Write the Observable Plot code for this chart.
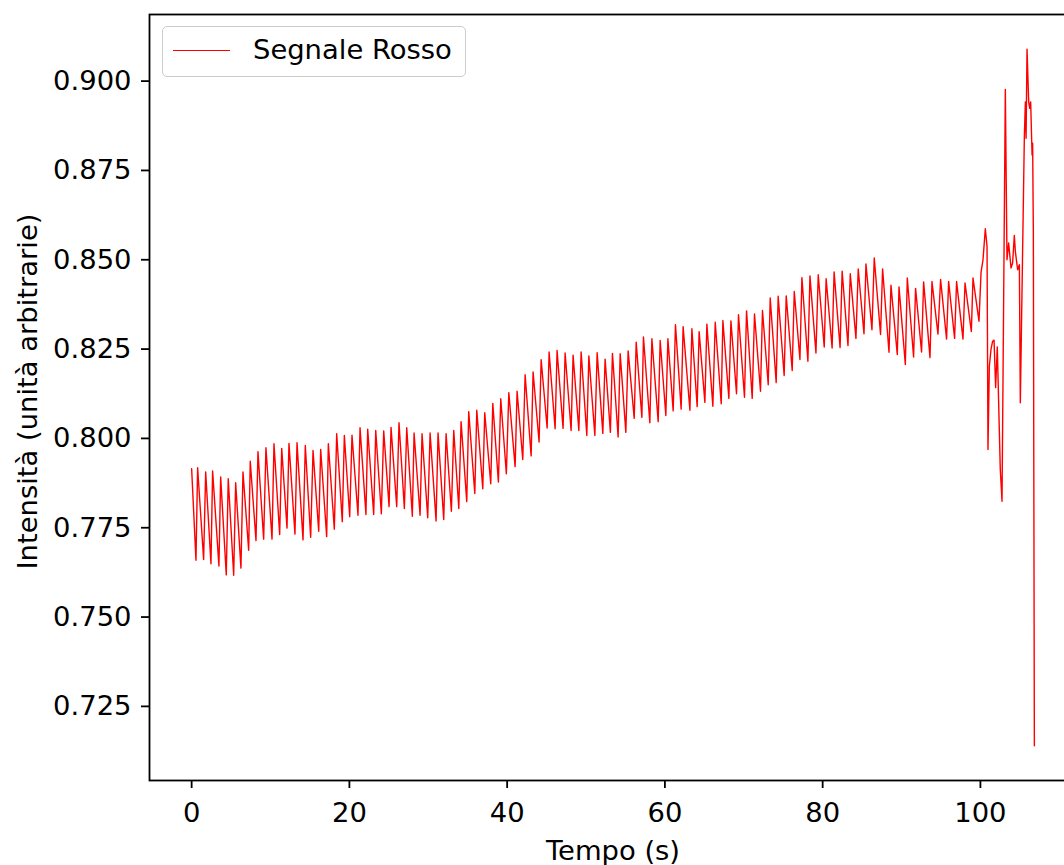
<!DOCTYPE html>
<html>
<head>
<meta charset="utf-8">
<script src="https://cdn.jsdelivr.net/npm/d3@7"></script>
<script src="https://cdn.jsdelivr.net/npm/@observablehq/plot@0.6"></script>
<style>
  html, body { margin: 0; padding: 0; background: white; overflow: hidden; }
  #wrap { position: relative; width: 1100px; height: 865px; }
  #legend {
    position: absolute; left: 162px; top: 26px; width: 302px; height: 49px;
    border: 1.8px solid #cccccc; border-radius: 5px; background: white;
    font-family: "DejaVu Sans", sans-serif; font-size: 27.4px; color: black;
  }
  #legend .swatch { position: absolute; left: 10px; top: 23px; width: 57px; height: 0; border-top: 1.4px solid red; }
  #legend .lab { position: absolute; left: 90px; top: 6px; line-height: 34px; white-space: nowrap; }
</style>
</head>
<body>
<div id="wrap"></div>
<script>
// Tempo (s)
const tempo = [0.00,0.55,0.76,1.52,1.78,2.45,2.66,3.46,3.68,4.39,
4.64,5.33,5.58,6.25,6.51,7.23,7.43,8.16,8.41,9.13,
9.42,10.19,10.44,11.16,11.42,12.09,12.34,13.10,13.36,14.12,
14.41,15.09,15.39,16.11,16.36,17.12,17.33,18.09,18.39,19.10,
19.36,20.04,20.33,21.09,21.35,22.10,22.32,23.08,23.34,24.05,
24.35,25.03,25.28,26.00,26.29,26.97,27.27,27.98,28.20,28.96,
29.21,29.93,30.23,30.99,31.24,31.96,32.26,32.93,33.23,33.87,
34.16,34.88,35.13,35.90,36.15,36.91,37.16,37.92,38.18,38.89,
39.19,39.90,40.21,41.01,41.26,41.98,42.28,43.04,43.29,44.05,
44.31,45.07,45.32,46.08,46.33,47.09,47.35,48.11,48.36,49.09,
49.38,50.10,50.36,51.12,51.41,52.13,52.42,53.09,53.35,54.07,
54.33,55.05,55.34,56.11,56.36,57.08,57.28,58.09,58.35,59.15,
59.40,60.12,60.38,61.05,61.34,62.06,62.31,63.17,63.42,64.09,
64.34,65.07,65.32,66.08,66.38,67.14,67.35,68.11,68.37,69.08,
69.33,70.09,70.35,71.07,71.36,72.12,72.37,73.10,73.35,74.11,
74.36,75.12,75.38,76.14,76.40,77.12,77.37,78.13,78.39,79.15,
79.44,80.20,80.44,81.20,81.45,82.21,82.47,83.21,83.50,84.22,
84.51,85.24,85.49,86.25,86.54,87.34,87.60,88.41,88.66,89.46,
89.68,90.48,90.73,91.53,91.78,92.54,92.80,93.61,93.86,94.62,
94.95,95.71,95.97,96.73,96.98,97.79,98.05,98.85,99.06,99.82,
100.08,100.33,100.62,100.84,100.96,101.13,101.34,101.55,101.73,101.93,
102.14,102.52,102.74,103.16,103.37,103.58,103.88,104.08,104.30,104.43,
104.72,104.94,105.06,105.57,105.70,105.79,105.91,106.12,106.25,106.37,
106.55,106.62,106.71,106.84];

// Segnale Rosso (intensità, unità arbitrarie)
const segnaleRosso = [0.7915,0.7659,0.7918,0.7661,0.7906,0.7649,0.7909,0.7643,0.7892,0.7618,
0.7887,0.7617,0.7876,0.7637,0.7906,0.7687,0.7936,0.7714,0.7963,0.7718,
0.7974,0.7718,0.7985,0.7731,0.7972,0.7749,0.7986,0.7732,0.7988,0.7716,
0.7980,0.7723,0.7966,0.7740,0.7969,0.7725,0.7985,0.7746,0.8013,0.7767,
0.8008,0.7781,0.8009,0.7785,0.8030,0.7787,0.8026,0.7787,0.8022,0.7789,
0.8021,0.7809,0.8031,0.7809,0.8044,0.7804,0.8030,0.7782,0.8015,0.7785,
0.8013,0.7778,0.8015,0.7769,0.8015,0.7773,0.8013,0.7796,0.8022,0.7804,
0.8047,0.7823,0.8075,0.7846,0.8079,0.7859,0.8072,0.7873,0.8098,0.7878,
0.8111,0.7901,0.8128,0.7921,0.8132,0.7941,0.8178,0.7951,0.8186,0.7990,
0.8220,0.8029,0.8242,0.8027,0.8246,0.8028,0.8239,0.8022,0.8233,0.8022,
0.8242,0.8008,0.8231,0.8008,0.8240,0.8014,0.8222,0.8017,0.8238,0.8004,
0.8237,0.8017,0.8245,0.8056,0.8269,0.8059,0.8284,0.8044,0.8279,0.8047,
0.8274,0.8064,0.8279,0.8077,0.8318,0.8082,0.8313,0.8079,0.8307,0.8089,
0.8299,0.8101,0.8320,0.8090,0.8325,0.8097,0.8330,0.8112,0.8329,0.8125,
0.8346,0.8115,0.8357,0.8112,0.8348,0.8132,0.8358,0.8150,0.8393,0.8156,
0.8398,0.8176,0.8399,0.8190,0.8411,0.8221,0.8450,0.8216,0.8455,0.8239,
0.8458,0.8256,0.8447,0.8253,0.8466,0.8254,0.8468,0.8260,0.8461,0.8280,
0.8474,0.8293,0.8488,0.8304,0.8505,0.8291,0.8474,0.8241,0.8429,0.8235,
0.8424,0.8207,0.8449,0.8228,0.8420,0.8242,0.8438,0.8226,0.8439,0.8292,
0.8445,0.8278,0.8439,0.8280,0.8439,0.8278,0.8435,0.8299,0.8449,0.8328,
0.8465,0.8500,0.8587,0.8537,0.7969,0.8202,0.8249,0.8272,0.8275,0.8142,
0.8256,0.7913,0.7824,0.8977,0.8500,0.8547,0.8477,0.8491,0.8568,0.8523,
0.8472,0.8486,0.8100,0.8844,0.8942,0.8840,0.9089,0.8942,0.8924,0.8942,
0.8793,0.8826,0.8584,0.7140];

const xTicks = [0, 20, 40, 60, 80, 100];
const yTicks = [0.725, 0.750, 0.775, 0.800, 0.825, 0.850, 0.875, 0.900];
const xLabel = "Tempo (s)";
const yLabel = "Intensità (unità arbitrarie)";
const seriesName = "Segnale Rosso";

const data = tempo.map((t, i) => ({t, v: segnaleRosso[i]}));

// matplotlib-style 5% margins around the data extent
const [t0, t1] = d3.extent(tempo);
const [v0, v1] = d3.extent(segnaleRosso);
const xPad = (t1 - t0) * 0.05, yPad = (v1 - v0) * 0.05;

const chart = Plot.plot({
  width: 1100,
  height: 865,
  marginLeft: 149,
  marginRight: 24,
  marginTop: 14,
  marginBottom: 85,
  style: {fontFamily: "DejaVu Sans, sans-serif", fontSize: "27.4px", color: "black", background: "white", maxWidth: "none", overflow: "visible"},
  x: {domain: [t0 - xPad, t1 + xPad]},
  y: {domain: [v0 - yPad, v1 + yPad]},
  marks: [
    Plot.line(data, {x: "t", y: "v", stroke: "red", strokeWidth: 1.4}),
    Plot.frame({stroke: "black", strokeWidth: 1.8}),
    Plot.axisX({ticks: xTicks, tickSize: 8, tickPadding: 14, tickFormat: d => String(d), label: null, strokeWidth: 1.8}),
    Plot.axisY({ticks: yTicks, tickSize: 8, tickPadding: 10, tickFormat: d3.format(".3f"), label: null, strokeWidth: 1.8}),
    Plot.text([xLabel], {text: d => d, frameAnchor: "bottom", dy: 79, fontSize: 27.4}),
    Plot.text([yLabel], {text: d => d, frameAnchor: "left", textAnchor: "middle", dx: -121, dy: -6, rotate: -90, fontSize: 27.4})
  ]
});

const wrap = document.getElementById("wrap");
wrap.appendChild(chart);
const legend = document.createElement("div");
legend.id = "legend";
legend.innerHTML = '<div class="swatch"></div><div class="lab"></div>';
legend.querySelector(".lab").textContent = seriesName;
wrap.appendChild(legend);
</script>
</body>
</html>
